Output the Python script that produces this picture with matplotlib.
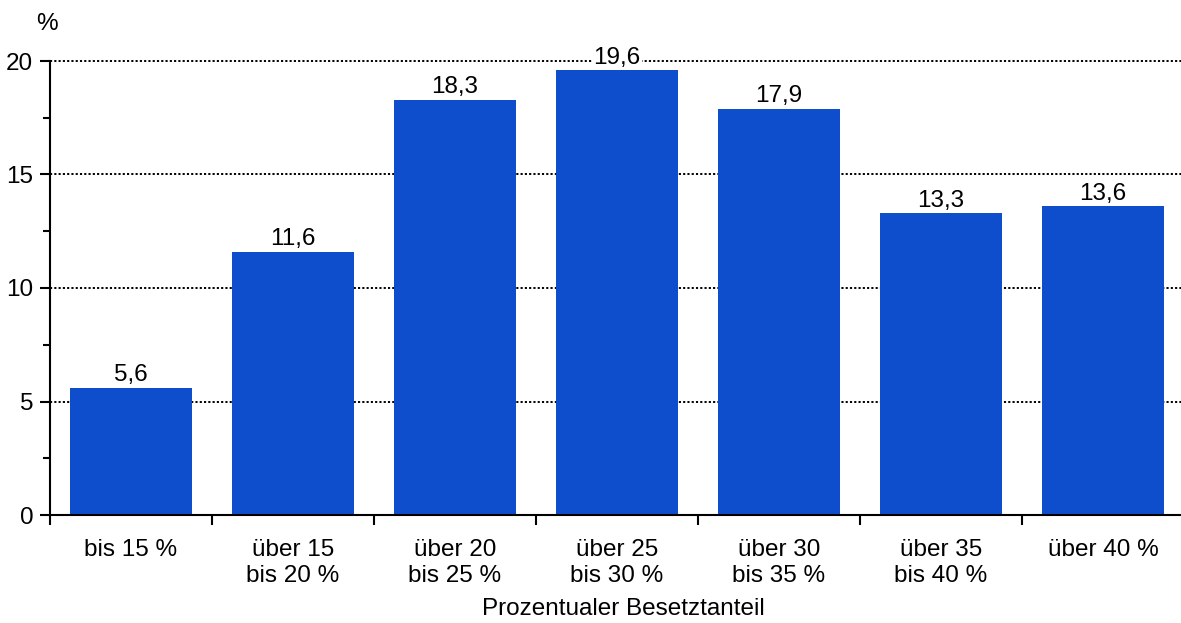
import matplotlib
matplotlib.use("Agg")
import matplotlib.pyplot as plt
import numpy as np

categories = ["bis 15 %", "über 15\nbis 20 %", "über 20\nbis 25 %", "über 25\nbis 30 %",
              "über 30\nbis 35 %", "über 35\nbis 40 %", "über 40 %"]
values = [5.6, 11.6, 18.3, 19.6, 17.9, 13.3, 13.6]
value_labels = ["5,6", "11,6", "18,3", "19,6", "17,9", "13,3", "13,6"]
yticks = [0, 5, 10, 15, 20]

plt.rcParams['font.family'] = ['Liberation Sans', 'DejaVu Sans']
FS = 17.5

fig = plt.figure(figsize=(11.81, 6.23), dpi=100)
ax = fig.add_axes([50/1181, 108/623, (1184-50)/1181, (515-61)/623])

x = np.arange(len(categories))
color = "#0E4ECC"
ax.bar(x, values, width=0.755, color=color, zorder=2)

ax.set_xlim(-0.5, len(categories) - 0.5)
ax.set_ylim(0, 20)

for xi, v, lab in zip(x, values, value_labels):
    ax.annotate(lab, (xi, v), xytext=(0, 1.0), textcoords="offset points",
                ha="center", va="bottom", fontsize=FS, clip_on=False, zorder=4,
                bbox=dict(facecolor="white", edgecolor="none", pad=0.8))

ax.set_yticks(yticks)
ax.set_yticklabels([str(t) for t in yticks], fontsize=FS)
ax.set_yticks([2.5, 7.5, 12.5, 17.5], minor=True)
for t in [5, 10, 15, 20]:
    ax.axhline(t, color="black", linestyle=(0, (1.1, 1.1)), linewidth=1.4, zorder=1, clip_on=False)

ax.set_xticks(np.arange(len(categories) + 1) - 0.5)
ax.set_xticklabels([])
ax.set_xticks(x, minor=True)
ax.set_xticklabels(categories, minor=True, fontsize=FS, linespacing=1.25)
ax.tick_params(axis="x", which="minor", length=0, pad=17)
ax.tick_params(axis="x", which="major", length=7, width=1.5, direction="out")
ax.tick_params(axis="y", which="major", length=7, width=1.5, direction="out", pad=5)
ax.tick_params(axis="y", which="minor", length=5, width=1.5, direction="out")

for s in ["top", "right"]:
    ax.spines[s].set_visible(False)
ax.spines["left"].set_linewidth(1.5)
ax.spines["bottom"].set_linewidth(1.5)
ax.spines["left"].set_zorder(5)
ax.spines["bottom"].set_zorder(5)

fig.text(47/1181, 1 - 24/623, "%", ha="center", va="center", fontsize=FS)
fig.text(623/1181, 1 - 609/623, "Prozentualer Besetztanteil", ha="center", va="center", fontsize=FS)

fig.savefig("out.png", dpi=100)
